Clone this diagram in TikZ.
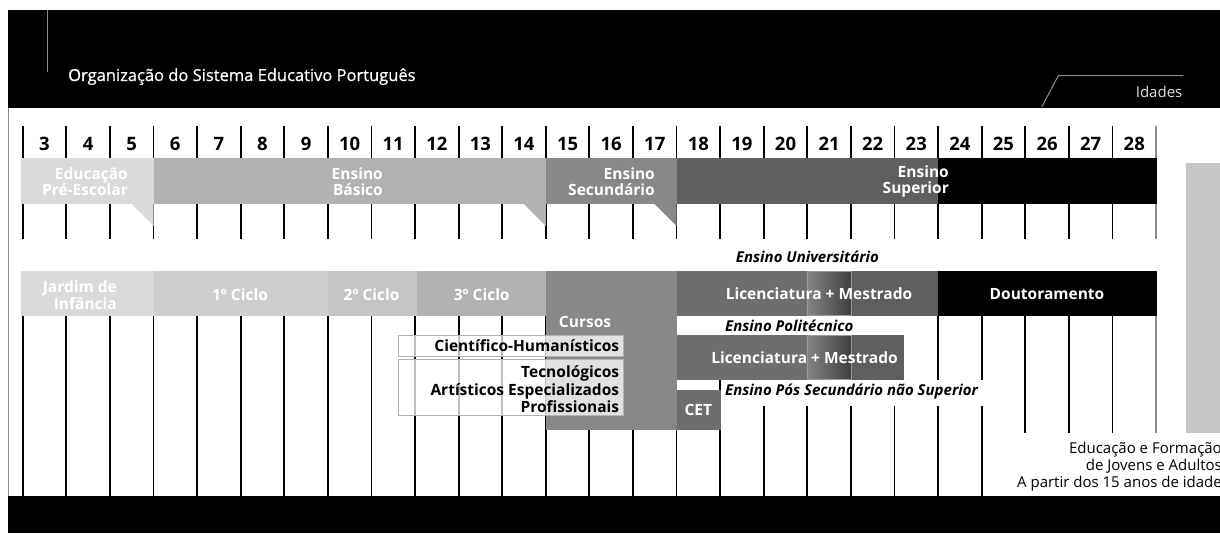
\documentclass[tikz,border=0pt]{standalone}
\usepackage{fontspec}
\setmainfont{Open Sans}
\usetikzlibrary{shadings}
\definecolor{ga}{HTML}{D9DADB}
\definecolor{gb}{HTML}{CDCECF}
\definecolor{gc}{HTML}{C4C5C6}
\definecolor{gd}{HTML}{B1B2B4}
\definecolor{ge}{HTML}{87888A}
\definecolor{gf}{HTML}{6D6E70}
\definecolor{gg}{HTML}{5D5E60}
\definecolor{gh}{HTML}{5E5F61}
\definecolor{rbar}{HTML}{C5C6C8}
\definecolor{lline}{HTML}{8C8C8C}
\definecolor{idc}{HTML}{DDDDDD}
\begin{document}
\begin{tikzpicture}[x=1pt,y=-1pt,
  vline/.style={line width=1.8pt,black},
  gline/.style={line width=1.8pt,lline},
  num/.style={anchor=base,inner sep=0,font=\fontsize{18.5}{19}\selectfont\bfseries},
  bandtxt/.style={inner sep=0,text=white,align=right,anchor=east,font=\fontsize{15.5}{16.5}\selectfont\bfseries},
  celltxt/.style={inner sep=0,text=white,font=\fontsize{15.5}{17}\selectfont\bfseries},
  itl/.style={inner sep=0,text=black,font=\fontsize{15}{17}\selectfont\bfseries\itshape},
  curso/.style={inner sep=0,text=black,align=right,anchor=east,font=\fontsize{15.5}{17.5}\selectfont\bfseries},
  overbox/.style={draw=black!30,line width=1pt,fill=white,fill opacity=0.75},
  grad/.style={draw=white!60!black,line width=0.8pt,left color=gf!85!white,right color=black!75}
]
\useasboundingbox (0,0) rectangle (1220,535);
% top band
\fill[black] (8,10) rectangle (1220,108);
\draw[lline,line width=1pt] (47,10) -- (47,72);
\node[anchor=base west,inner sep=0,text=white,font=\fontsize{16.5}{18}\selectfont\addfontfeature{FakeBold=0.6}] (title) at (68,81) {Organização do Sistema Educativo Português};
\coordinate (ida) at (1041.7,107);
\coordinate (idb) at (1058.3,75.7);
\coordinate (idc) at (1183.3,75.7);
\draw[lline,line width=1pt] (ida) -- (idb) -- (idc);
\node[anchor=base east,inner sep=0,text=idc,font=\fontsize{15}{17}\selectfont] (idades) at (1182.5,97.5) {Idades};
% left border
\draw[lline,line width=1pt] (8.5,108) -- (8.5,496);
% ages
\foreach \a [count=\i from 0] in {3,...,28}
  \node[num] (n\a) at ({22.7+43.59*(\i+0.5)},150) {\a};
% vertical lines
\foreach \i in {0,...,25}
  \draw[vline] ({22.7+43.59*\i},126) -- ++(0,113);
\draw[gline] (1156,126) -- (1156,239);
\foreach \i in {0,...,22}
  \draw[vline] ({22.7+43.59*\i},316) -- ({22.7+43.59*\i},496);
\foreach \i in {23,24,25}
  \draw[vline] ({22.7+43.59*\i},316) -- ({22.7+43.59*\i},433);
\draw[gline] (1156,316) -- (1156,433);
% row 1 bands
\fill[ga] (21,158) rectangle (153.5,204);
\fill[ga] (131.7,204) -- (153.5,204) -- (153.5,226) -- cycle;
\fill[gd] (153.5,158) rectangle (545.8,204);
\fill[gd] (523.8,204) -- (545.8,204) -- (545.8,226) -- cycle;
\fill[ge] (545.8,158) rectangle (676.6,204);
\fill[ge] (654.6,204) -- (676.6,204) -- (676.6,226) -- cycle;
\fill[gh] (676.6,158) rectangle (938.1,204);
\fill[black] (938.1,158) rectangle (1156.5,204);
\node[bandtxt] (pre) at (128,181.5) {Educação\\Pré-Escolar};
\node[bandtxt] (bas) at (383,181.5) {Ensino\\Básico};
\node[bandtxt] (sec) at (655,181.5) {Ensino\\Secundário};
\node[bandtxt] (sup) at (949,181.5) {Ensino\\Superior};
% row 2 bands
\fill[ga] (21,271) rectangle (153.5,316);
\fill[gb] (153.5,271) rectangle (327.8,316);
\fill[gc] (327.8,271) rectangle (417,316);
\fill[gd] (417,271) rectangle (545.8,316);
\fill[ge] (545.8,271) rectangle (676.6,430);
\node[celltxt,align=right,anchor=east] (jard) at (117,295) {Jardim de\\Infância};
\node[celltxt] (c1) at (240,295) {1º Ciclo};
\node[celltxt] (c2) at (371.6,295) {2º Ciclo};
\node[celltxt] (c3) at (481.7,295) {3º Ciclo};
\node[celltxt] (cursos) at (585,322) {Cursos};
% universitario
\node[itl,anchor=east] (univ) at (879,257) {Ensino Universitário};
\fill[gf] (676.6,271) rectangle (807.3,316);
\fill[gg] (850.9,271) rectangle (938.1,316);
\shade[grad] (807.3,271.4) rectangle (850.9,315.6);
\fill[black] (938.1,271) rectangle (1156.5,316);
\node[celltxt] (ulm) at (819,294) {Licenciatura + Mestrado};
\node[celltxt] (dout) at (1047,294) {Doutoramento};
% politecnico
\fill[white] (677.5,316) rectangle (936,335);
\node[itl,anchor=west] (poli) at (725,326) {Ensino Politécnico};
\fill[gf] (676.6,335) rectangle (807.3,380);
\fill[gg] (850.9,335) rectangle (904,380);
\shade[grad] (807.3,335.4) rectangle (850.9,379.6);
\node[celltxt] (plm) at (804.5,358) {Licenciatura + Mestrado};
% pos secundario
\fill[white] (723,380) rectangle (1003,406);
\node[itl,anchor=west] (pos) at (725,392) {Ensino Pós Secundário não Superior};
\fill[gf] (676.6,390) rectangle (720.8,430);
\node[celltxt] (cet) at (698.3,410) {CET};
% cursos overlays
\draw[overbox] (398.3,335) rectangle (623.3,356);
\draw[overbox] (398.3,359.3) rectangle (623.3,415);
\node[curso] (cient) at (619.3,345.5) {Científico-Humanísticos};
\node[curso] (tec) at (619.3,389.3) {Tecnológicos\\Artísticos Especializados\\Profissionais};
% right bar
\fill[rbar] (1186,163) rectangle (1220,433);
\node[inner sep=0,anchor=east,align=right,font=\fontsize{15}{16.7}\selectfont] (efa) at (1222,466.7) {Educação e Formação\\de Jovens e Adultos\\A partir dos 15 anos de idade};
% bottom band
\fill[black] (8,496) rectangle (1220,533);
\end{tikzpicture}
\end{document}
